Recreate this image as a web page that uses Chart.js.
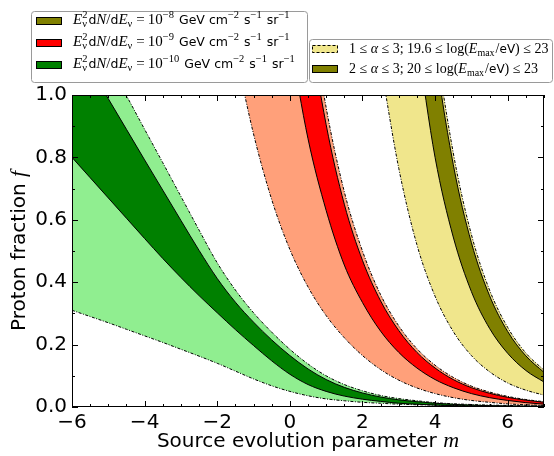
<!DOCTYPE html>
<html>
<head>
<meta charset="utf-8">
<script src="https://cdn.jsdelivr.net/npm/chart.js@4.4.0/dist/chart.umd.min.js"></script>
<style>
  html, body { margin: 0; padding: 0; background: #fff; }
</style>
</head>
<body>
<canvas id="fracChart" width="554" height="456"></canvas>
<script>
// axis ticks
const xTicks = [-6, -4, -2, 0, 2, 4, 6]
const yTicks = [0, 0.2, 0.4, 0.6, 0.8, 1.0]

// boundaries as [m, f]; values above f = 1 only carry a band past the top frame
// 1e-10 flux (green)
const greenOuterHigh = [[-6, 1.32], [-5.5, 1.21], [-5, 1.105], [-4.5, 0.998], [-4, 0.89], [-3.5, 0.783], [-3, 0.675], [-2.5, 0.567], [-2, 0.462], [-1.5, 0.375], [-1, 0.302], [-0.5, 0.24], [0, 0.185], [0.5, 0.138], [1, 0.1], [1.5, 0.072], [2, 0.052], [2.5, 0.037], [3, 0.027], [3.5, 0.02], [4, 0.014], [5, 0.008], [6, 0.005], [7, 0.003]]
const greenOuterLow = [[-6, 0.31], [-5.5, 0.29], [-5, 0.27], [-4.5, 0.249], [-4, 0.228], [-3.5, 0.207], [-3, 0.185], [-2.5, 0.163], [-2, 0.14], [-1.5, 0.115], [-1, 0.09], [-0.5, 0.068], [0, 0.05], [0.5, 0.036], [1, 0.026], [1.5, 0.02], [2, 0.015], [2.5, 0.012], [3, 0.009], [4, 0.006], [5, 0.004], [6, 0.003], [7, 0.002]]
const greenInnerHigh = [[-6, 1.18], [-5.5, 1.085], [-5, 0.988], [-4.5, 0.89], [-4, 0.792], [-3.5, 0.695], [-3, 0.598], [-2.5, 0.502], [-2, 0.412], [-1.5, 0.336], [-1, 0.272], [-0.5, 0.215], [0, 0.165], [0.5, 0.122], [1, 0.088], [1.5, 0.063], [2, 0.045], [2.5, 0.032], [3, 0.023], [3.5, 0.017], [4, 0.012], [5, 0.006], [6, 0.003], [7, 0.002]]
const greenInnerLow = [[-6, 0.80], [-5.5, 0.735], [-5, 0.67], [-4.5, 0.605], [-4, 0.54], [-3.5, 0.476], [-3, 0.415], [-2.5, 0.357], [-2, 0.302], [-1.5, 0.248], [-1, 0.197], [-0.5, 0.148], [0, 0.105], [0.5, 0.072], [1, 0.05], [1.5, 0.035], [2, 0.025], [2.5, 0.018], [3, 0.012], [3.5, 0.009], [4, 0.006], [5, 0.003], [6, 0.002], [7, 0.001]]

// 1e-9 flux (red)
const redOuterHigh = [[-1.5, 4.95], [-1, 3.55], [-0.5, 2.57], [0, 1.85], [0.5, 1.33], [1, 0.96], [1.5, 0.69], [2, 0.5], [2.5, 0.36], [3, 0.26], [3.5, 0.187], [4, 0.134], [4.5, 0.095], [5, 0.067], [5.5, 0.048], [6, 0.034], [6.5, 0.024], [7, 0.017]]
const redOuterLow = [[-1.5, 1.14], [-1, 0.875], [-0.5, 0.665], [0, 0.505], [0.5, 0.385], [1, 0.293], [1.5, 0.222], [2, 0.165], [2.5, 0.12], [3, 0.086], [3.5, 0.061], [4, 0.043], [4.5, 0.03], [5, 0.021], [5.5, 0.015], [6, 0.01], [6.5, 0.007], [7, 0.005]]
const redInnerHigh = [[0, 1.75], [0.5, 1.26], [1, 0.905], [1.5, 0.65], [2, 0.47], [2.5, 0.34], [3, 0.245], [3.5, 0.175], [4, 0.125], [4.5, 0.088], [5, 0.062], [5.5, 0.044], [6, 0.031], [6.5, 0.022], [7, 0.015]]
const redInnerLow = [[0, 1.18], [0.5, 0.86], [1, 0.63], [1.5, 0.455], [2, 0.335], [2.5, 0.243], [3, 0.175], [3.5, 0.125], [4, 0.088], [4.5, 0.062], [5, 0.043], [5.5, 0.03], [6, 0.021], [6.5, 0.014], [7, 0.009]]

// 1e-8 flux (khaki / olive)
const yellowOuterHigh = [[2.5, 3.9], [3, 2.6], [3.5, 1.78], [4, 1.2], [4.5, 0.815], [5, 0.553], [5.5, 0.375], [6, 0.255], [6.5, 0.173], [7, 0.118]]
const yellowOuterLow = [[2.5, 1.1], [3, 0.765], [3.5, 0.52], [4, 0.355], [4.5, 0.242], [5, 0.165], [5.5, 0.113], [6, 0.077], [6.5, 0.054], [7, 0.038]]
const yellowInnerHigh = [[3.5, 1.7], [4, 1.15], [4.5, 0.778], [5, 0.527], [5.5, 0.357], [6, 0.242], [6.5, 0.164], [7, 0.111]]
const yellowInnerLow = [[3.5, 1.18], [4, 0.8], [4.5, 0.545], [5, 0.37], [5.5, 0.252], [6, 0.172], [6.5, 0.117], [7, 0.08]]

// legend entries
const fluxExponents = ['\u22128', '\u22129', '\u221210']
const fluxColors = ['#808000', '#ff0000', '#008000']
const rangeAlpha = ['1', '2']
const rangeEmin = ['19.6', '20']

const DASHDOT = [3, 1.5, 1, 1.5]

function pts(a) { return a.map(p => ({x: p[0], y: p[1]})) }

function band(data, target, color, dashed, order) {
  return {
    data: pts(data),
    borderColor: '#000',
    borderWidth: 1,
    borderDash: dashed ? DASHDOT : [],
    backgroundColor: color,
    fill: target === null ? false : target,
    pointRadius: 0,
    tension: 0.4,
    cubicInterpolationMode: 'monotone',
    clip: 0,
    order: order
  }
}

const FONT_L = {
  i: 'italic 15px "Liberation Serif"',
  r: '15px "Liberation Serif"',
  s: '12.5px "DejaVu Sans"',
  sc: '10.5px "Liberation Serif"'
}
const FONT_R = {
  i: 'italic 14px "Liberation Serif"',
  r: '14px "Liberation Serif"',
  s: '12px "DejaVu Sans"',
  sc: '10px "Liberation Serif"'
}

function drawRich(ctx, x, y, parts, fonts) {
  for (const p of parts) {
    if (p.sup !== undefined || p.sub !== undefined) {
      ctx.font = fonts.sc
      let w = 0
      if (p.sup) { ctx.fillText(p.sup, x, y - 6); w = Math.max(w, ctx.measureText(p.sup).width) }
      if (p.sub) { ctx.fillText(p.sub, x, y + 3); w = Math.max(w, ctx.measureText(p.sub).width) }
      x += w + 1
    } else {
      ctx.font = fonts[p.f]
      ctx.fillText(p.t, x, y)
      x += ctx.measureText(p.t).width
    }
  }
  return x
}

function fluxLabel(exp) {
  return [
    {t: 'E', f: 'i'}, {sup: '2', sub: '\u03bd'}, {t: 'd', f: 's'}, {t: 'N', f: 'i'}, {t: '/', f: 'r'},
    {t: 'd', f: 's'}, {t: 'E', f: 'i'}, {sub: '\u03bd'}, {t: '\u2009=\u2009', f: 'r'}, {t: '10', f: 'r'}, {sup: exp},
    {t: ' GeV cm', f: 's'}, {sup: '\u22122'}, {t: ' s', f: 's'}, {sup: '\u22121'}, {t: ' sr', f: 's'}, {sup: '\u22121'}
  ]
}

function rangeLabel(a, e) {
  return [
    {t: a + ' \u2264 ', f: 'r'}, {t: '\u03b1', f: 'i'}, {t: ' \u2264 3; ' + e + ' \u2264 log(', f: 'r'},
    {t: 'E', f: 'i'}, {sub: 'max'}, {t: '/', f: 'r'}, {t: 'eV', f: 's'}, {t: ') \u2264 23', f: 'r'}
  ]
}

function roundBox(ctx, x, y, w, h) {
  ctx.save()
  ctx.beginPath()
  ctx.roundRect(x + 0.5, y + 0.5, w, h, 3)
  ctx.fillStyle = '#fff'
  ctx.fill()
  ctx.strokeStyle = '#9a9a9a'
  ctx.lineWidth = 1
  ctx.stroke()
  ctx.restore()
}

function patch(ctx, x, y, color, dashed) {
  ctx.save()
  ctx.fillStyle = color
  ctx.fillRect(x, y, 26, 8)
  ctx.strokeStyle = '#000'
  ctx.lineWidth = 1
  if (dashed) ctx.setLineDash([3, 2])
  ctx.strokeRect(x + 0.5, y + 0.5, 25, 7)
  ctx.restore()
}

function mixedText(ctx, parts, x, y) {
  // parts: [text, font]; x is the centre
  let total = 0
  for (const p of parts) { ctx.font = p[1]; total += ctx.measureText(p[0]).width }
  let cx = x - total / 2
  for (const p of parts) { ctx.font = p[1]; ctx.fillText(p[0], cx, y); cx += ctx.measureText(p[0]).width }
}

const framePlugin = {
  id: 'frame',
  afterDatasetsDraw(chart) {
    const {ctx, chartArea: a, scales: {x, y}} = chart
    ctx.save()
    ctx.strokeStyle = '#000'
    ctx.lineWidth = 1
    ctx.beginPath()
    for (let i = -12; i <= 14; i++) {
      const px = Math.round(x.getPixelForValue(i / 2)) + 0.5
      const len = i % 4 === 0 ? 6 : 3
      ctx.moveTo(px, a.bottom); ctx.lineTo(px, a.bottom - len)
      ctx.moveTo(px, a.top); ctx.lineTo(px, a.top + len)
    }
    for (let i = 0; i <= 10; i++) {
      const py = Math.round(y.getPixelForValue(i / 10)) + 0.5
      const len = i % 2 === 0 ? 6 : 3
      ctx.moveTo(a.left, py); ctx.lineTo(a.left + len, py)
      ctx.moveTo(a.right, py); ctx.lineTo(a.right - len, py)
    }
    ctx.stroke()
    ctx.strokeRect(a.left + 0.5, a.top + 0.5, a.width - 1, a.height - 1)
    ctx.restore()
  },
  afterDraw(chart) {
    const {ctx, chartArea: a} = chart
    ctx.save()
    ctx.fillStyle = '#000'
    ctx.textBaseline = 'alphabetic'

    // axis titles
    const sans = '20px "DejaVu Sans"', ital = 'italic 22px "Liberation Serif"'
    mixedText(ctx, [['Source evolution parameter ', sans], ['m', ital]], (a.left + a.right) / 2, 447)
    ctx.save()
    ctx.translate(25, (a.top + a.bottom) / 2)
    ctx.rotate(-Math.PI / 2)
    mixedText(ctx, [['Proton fraction ', sans], ['f', ital]], 0, 0)
    ctx.restore()

    // legends
    roundBox(ctx, 31, 11, 276, 71)
    fluxExponents.forEach((e, i) => {
      const cy = 21 + i * 22
      patch(ctx, 36, cy - 4, fluxColors[i], false)
      drawRich(ctx, 73, cy + 3, fluxLabel(e), FONT_L)
    })
    roundBox(ctx, 309, 39, 243, 43)
    rangeAlpha.forEach((al, i) => {
      const cy = 49 + i * 20
      patch(ctx, 312, cy - 4, i === 0 ? '#f0e68c' : '#808000', i === 0)
      drawRich(ctx, 349, cy + 4, rangeLabel(al, rangeEmin[i]), FONT_R)
    })
    ctx.restore()
  }
}

const datasets = [
  band(greenOuterHigh, 1, '#90ee90', true, 10),
  band(greenOuterLow, null, '#90ee90', true, 10),
  band(greenInnerHigh, 3, '#008000', false, 5),
  band(greenInnerLow, null, '#008000', false, 5),
  band(redOuterHigh, 5, '#ffa07a', true, 10),
  band(redOuterLow, null, '#ffa07a', true, 10),
  band(redInnerHigh, 7, '#ff0000', false, 5),
  band(redInnerLow, null, '#ff0000', false, 5),
  band(yellowOuterHigh, 9, '#f0e68c', true, 10),
  band(yellowOuterLow, null, '#f0e68c', true, 10),
  band(yellowInnerHigh, 11, '#808000', false, 5),
  band(yellowInnerLow, null, '#808000', false, 5)
]

new Chart(document.getElementById('fracChart'), {
  type: 'line',
  data: {datasets: datasets},
  plugins: [framePlugin],
  options: {
    responsive: false,
    animation: false,
    events: [],
    layout: {padding: {left: 0, right: 10, top: 95, bottom: 0}},
    plugins: {
      legend: {display: false},
      tooltip: {enabled: false},
      filler: {drawTime: 'beforeDatasetsDraw'}
    },
    scales: {
      x: {
        type: 'linear',
        min: -6,
        max: 7,
        grid: {display: false, drawTicks: false},
        border: {display: false},
        afterBuildTicks: s => { s.ticks = xTicks.map(v => ({value: v})) },
        afterFit: s => { s.height = 49 },
        ticks: {
          color: '#000',
          font: {family: 'DejaVu Sans', size: 20},
          padding: 4,
          maxRotation: 0,
          callback: v => v < 0 ? '\u2212' + Math.abs(v) : String(v)
        }
      },
      y: {
        min: 0,
        max: 1,
        grid: {display: false, drawTicks: false},
        border: {display: false},
        afterBuildTicks: s => { s.ticks = yTicks.map(v => ({value: v})) },
        afterFit: s => { s.width = 72 },
        ticks: {
          color: '#000',
          font: {family: 'DejaVu Sans', size: 20},
          padding: 5,
          callback: v => v.toFixed(1)
        }
      }
    }
  }
})
</script>
</body>
</html>
